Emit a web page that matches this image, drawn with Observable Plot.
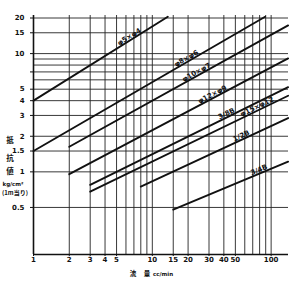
<!DOCTYPE html>
<html><head><meta charset="utf-8">
<script src="https://cdn.jsdelivr.net/npm/d3@7"></script>
<script src="https://cdn.jsdelivr.net/npm/@observablehq/plot@0.6"></script>
<style>body{margin:0;background:#fff;} svg{display:block}</style>
</head><body><div id="chart"></div>
<script>
// ---- data ----
const series    = ["φ5×φ4","φ8×φ6","φ10×φ7","φ12×φ9","3/8B","φ15×φ12","1/2B","3/4B"];
const flowStart = [1, 1, 2, 2, 3, 3, 8, 15];
const resStart  = [4.0, 1.5, 1.63, 0.955, 0.776, 0.68, 0.75, 0.48];
const flowEnd   = [13.5, 89, 139, 139, 139, 139, 139, 139];
const resEnd    = [20.5, 20.5, 17.3, 9.1, 5.2, 4.4, 2.85, 1.22];
const labelFlow = [6.4, 19.3, 23.5, 32, 42, 76, 56, 79];
const xTicks = [1,2,3,4,5,10,15,20,30,40,50,100];
const xGrid  = [2,3,4,5,6,7,8,9,10,15,20,30,40,50,60,70,80,90,100];
const yTicks = [0.5,1,1.5,2,3,4,5,7,10,15,20];
const yGrid  = [0.5,1,1.5,2,3,4,5,6,7,8,9,10,15,20];
const xDomain = [1,140], yDomain = [0.2,21];

// ---- layout ----
const W=300,H=284,mL=33,mR=12,mT=15,mB=30;
const rows = series.flatMap((s,i)=>[{s,q:flowStart[i],r:resStart[i]},{s,q:flowEnd[i],r:resEnd[i]}]);
const kx=(W-mL-mR)/Math.log10(xDomain[1]/xDomain[0]);
const ky=(H-mT-mB)/Math.log10(yDomain[1]/yDomain[0]);
const labels = series.map((s,i)=>{
  const slope=Math.log10(resEnd[i]/resStart[i])/Math.log10(flowEnd[i]/flowStart[i]);
  const q=labelFlow[i];
  const r=resStart[i]*Math.pow(q/flowStart[i],slope);
  return {s,q,r,a:-Math.atan(slope*ky/kx)*180/Math.PI};
});

const plot = Plot.plot({
  width:W,height:H,marginLeft:mL,marginRight:mR,marginTop:mT,marginBottom:mB,
  x:{type:"log",domain:xDomain},
  y:{type:"log",domain:yDomain},
  style:{fontFamily:"DejaVu Sans",fontSize:"7px",color:"#111",background:"#fff"},
  marks:[
    Plot.ruleX(xGrid,{stroke:"#222",strokeWidth:0.9}),
    Plot.ruleY(yGrid,{stroke:"#222",strokeWidth:0.9}),
    Plot.ruleX([xDomain[0]],{stroke:"#111",strokeWidth:1.6}),
    Plot.ruleY([yDomain[0]],{stroke:"#111",strokeWidth:1.6}),
    Plot.axisX({ticks:xTicks,tickFormat:d=>String(d),tickSize:2,tickPadding:1,label:null,fontWeight:"bold"}),
    Plot.axisY({ticks:yTicks,tickFormat:d=>String(d),tickSize:3,tickPadding:6,label:null,fontWeight:"bold"}),
    Plot.line(rows,{x:"q",y:"r",z:"s",stroke:"#111",strokeWidth:1.9}),
    Plot.text(labels,{x:"q",y:"r",text:"s",rotate:"a",dy:-4,fontSize:7,fontWeight:"bold",fill:"#111"})
  ]
});
document.getElementById("chart").append(plot);

const svg=d3.select(plot);
const cjk='"Noto Sans CJK JP", sans-serif';
function add(x,y,t,size,fam,anchor="middle"){
  svg.append("text").attr("x",x).attr("y",y).attr("text-anchor",anchor)
    .attr("dominant-baseline","middle").attr("font-size",size).attr("font-weight","bold")
    .attr("font-family",fam).attr("fill","#111").text(t);
}
add(10,141,"抵",7.5,cjk);
add(10,159,"抗",7.5,cjk);
add(10,172,"値",7.5,cjk);
add(13,184,"kg/cm²",5.5,"DejaVu Sans");
add(15,193,"(1m当り)",6,cjk);
add(133,274,"流",6.5,cjk);
add(147,274,"量",6.5,cjk);
add(153,274,"cc/min",5.5,"DejaVu Sans","start");
</script>
</body></html>
